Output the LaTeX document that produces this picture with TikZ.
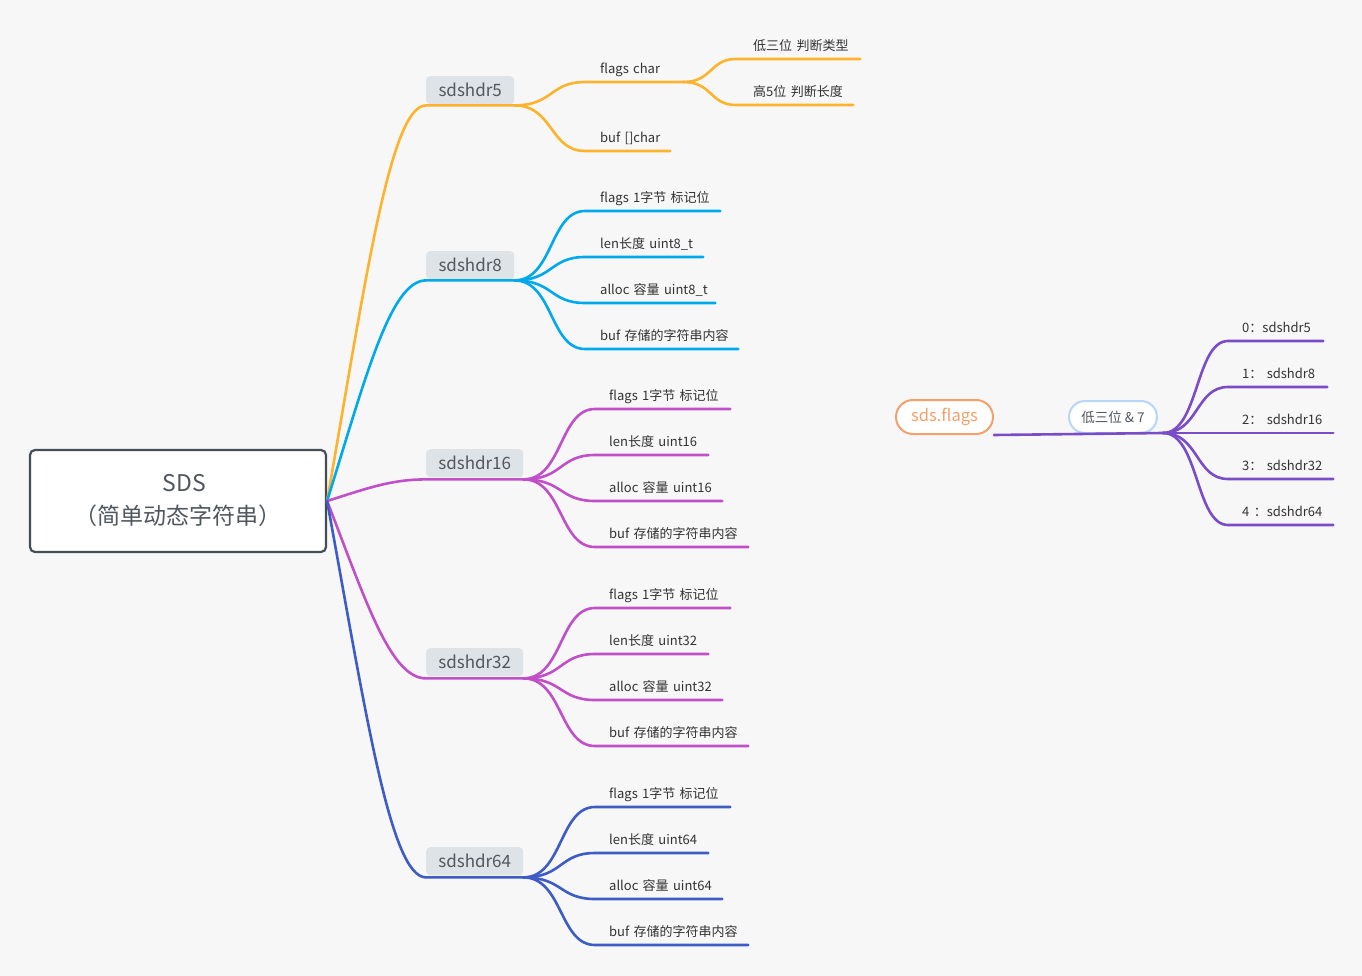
\documentclass[tikz,border=0pt]{standalone}
\usepackage{fontspec}
\setmainfont{Noto Sans CJK SC}
\usetikzlibrary{calc}
\definecolor{bg}{HTML}{F7F7F7}
\definecolor{cfive}{HTML}{FDB32B}
\definecolor{ceight}{HTML}{00A8EC}
\definecolor{csixteen}{HTML}{C04FC8}
\definecolor{csixtyfour}{HTML}{3D5CC5}
\definecolor{cpurple}{HTML}{7A4CC8}
\definecolor{rootb}{HTML}{454D56}
\definecolor{hdrfill}{HTML}{DDE3E6}
\definecolor{hdrtext}{HTML}{50575E}
\definecolor{txt}{HTML}{333333}
\definecolor{flagc}{HTML}{F4A06C}
\definecolor{lblue}{HTML}{B7D7F9}
\tikzset{
  conn/.style={line width=2.6pt, line cap=round},
  leaf/.style={inner xsep=0pt, inner ysep=0pt, anchor=south west, align=left,
    text height=10pt, text depth=8.5pt, font=\fontsize{13}{15}\selectfont, text=txt},
  hdr/.style={fill=hdrfill, rounded corners=4pt, anchor=north west, minimum height=28pt,
    inner sep=0pt, text=hdrtext, font=\fontsize{17}{19}\selectfont},
  rootcurve/.style={to path={let \p1=(\tikztostart), \p2=(\tikztotarget) in
    .. controls ({\x1+0.39*(\x2-\x1)},{\y1+0.56*(\y2-\y1)}) and ({\x1+0.64*(\x2-\x1)},\y2) .. (\tikztotarget)}},
  leafcurve/.style={to path={let \p1=(\tikztostart), \p2=(\tikztotarget) in
    .. controls ({\x1+0.55*(\x2-\x1)},\y1) and ({\x1+0.5*(\x2-\x1)},\y2) .. (\tikztotarget)}},
}
\begin{document}
\begin{tikzpicture}[x=1pt,y=-1pt]
\fill[bg] (0,0) rectangle (1362,976);

% root
\node[draw=rootb, line width=2.2pt, fill=white, rounded corners=5pt, minimum width=296pt,
  minimum height=102pt, align=center, font=\fontsize{23}{33}\selectfont, text=hdrtext] (root) at (178,501)
  {\hspace*{13pt}SDS\\（简单动态字符串）};

% header nodes
\node[hdr, minimum width=88pt] (s5) at (426,76) {sdshdr5};
\node[hdr, minimum width=88pt] (s8) at (426,251) {sdshdr8};
\node[hdr, minimum width=97pt] (s16) at (426,449) {sdshdr16};
\node[hdr, minimum width=97pt] (s32) at (426,648) {sdshdr32};
\node[hdr, minimum width=97pt] (s64) at (426,847) {sdshdr64};

% sdshdr5 leaves
\node[leaf, text width=98pt] (l5a) at (585,82) {\hspace*{15pt}flags char};
\node[leaf, text width=85pt] (l5b) at (585,151) {\hspace*{15pt}buf []char};
\node[leaf, text width=124pt] (g1) at (736,59) {\hspace*{17pt}低三位 判断类型};
\node[leaf, text width=117pt] (g2) at (736,105) {\hspace*{17pt}高5位 判断长度};

% sdshdr8 leaves
\node[leaf, text width=135pt] (l8a) at (585,211) {\hspace*{15pt}flags 1字节 标记位};
\node[leaf, text width=118pt] (l8b) at (585,257) {\hspace*{15pt}len长度 uint8\_t};
\node[leaf, text width=130pt] (l8c) at (585,303) {\hspace*{15pt}alloc 容量 uint8\_t};
\node[leaf, text width=153pt] (l8d) at (585,349) {\hspace*{15pt}buf 存储的字符串内容};

% sdshdr16 leaves
\node[leaf, text width=135pt] (l16a) at (595,409) {\hspace*{14pt}flags 1字节 标记位};
\node[leaf, text width=113pt] (l16b) at (595,455) {\hspace*{14pt}len长度 uint16};
\node[leaf, text width=127pt] (l16c) at (595,501) {\hspace*{14pt}alloc 容量 uint16};
\node[leaf, text width=153pt] (l16d) at (595,547) {\hspace*{14pt}buf 存储的字符串内容};

% sdshdr32 leaves
\node[leaf, text width=135pt] (l32a) at (595,608) {\hspace*{14pt}flags 1字节 标记位};
\node[leaf, text width=113pt] (l32b) at (595,654) {\hspace*{14pt}len长度 uint32};
\node[leaf, text width=127pt] (l32c) at (595,700) {\hspace*{14pt}alloc 容量 uint32};
\node[leaf, text width=153pt] (l32d) at (595,746) {\hspace*{14pt}buf 存储的字符串内容};

% sdshdr64 leaves
\node[leaf, text width=135pt] (l64a) at (595,807) {\hspace*{14pt}flags 1字节 标记位};
\node[leaf, text width=113pt] (l64b) at (595,853) {\hspace*{14pt}len长度 uint64};
\node[leaf, text width=127pt] (l64c) at (595,899) {\hspace*{14pt}alloc 容量 uint64};
\node[leaf, text width=153pt] (l64d) at (595,945) {\hspace*{14pt}buf 存储的字符串内容};

% right side
\node[draw=flagc, line width=2pt, fill=white, rounded corners=17pt, minimum width=97pt,
  minimum height=34pt, inner sep=0pt, text=flagc, font=\fontsize{16.5}{18}\selectfont] (flags) at (944.5,417) {sds.flags};
\node[draw=lblue, line width=2pt, fill=white, rounded corners=16pt, minimum width=88pt,
  minimum height=32pt, inner sep=0pt, text=hdrtext, font=\fontsize{13.5}{15}\selectfont] (mask) at (1113,417) {低三位 \& 7};
\coordinate (fan) at (1163,433);
\node[leaf, text width=95pt] (p0) at (1228,341) {\hspace*{14pt}0：sdshdr5};
\node[leaf, text width=99pt] (p1) at (1228,387) {\hspace*{14pt}1：\ sdshdr8};
\node[leaf, text width=105pt] (p2) at (1228,433) {\hspace*{14pt}2：\ sdshdr16};
\node[leaf, text width=105pt] (p3) at (1228,479) {\hspace*{14pt}3：\ sdshdr32};
\node[leaf, text width=105pt] (p4) at (1228,525) {\hspace*{14pt}4 ：sdshdr64};

% ---------- connectors ----------
% root to headers
\draw[conn, cfive] (root.east) to[rootcurve] ([yshift=-1pt]s5.south west) -- ([yshift=-1pt]s5.south east);
\draw[conn, ceight] (root.east) to[rootcurve] ([yshift=-1pt]s8.south west) -- ([yshift=-1pt]s8.south east);
\draw[conn, csixteen] (root.east) to[rootcurve] ([yshift=-2pt]s16.south west) -- ([yshift=-2pt]s16.south east);
\draw[conn, csixteen] (root.east) to[rootcurve] ([yshift=-2pt]s32.south west) -- ([yshift=-2pt]s32.south east);
\draw[conn, csixtyfour] (root.east) to[rootcurve] ([yshift=-2pt]s64.south west) -- ([yshift=-2pt]s64.south east);

% sdshdr5
\foreach \q in {l5a,l5b}{
  \draw[conn, cfive] ([yshift=-1pt]s5.south east) to[leafcurve] (\q.south west) -- (\q.south east);}
\foreach \q in {g1,g2}{
  \draw[conn, cfive] (l5a.south east) to[leafcurve] (\q.south west) -- (\q.south east);}
% sdshdr8
\foreach \q in {l8a,l8b,l8c,l8d}{
  \draw[conn, ceight] ([yshift=-1pt]s8.south east) to[leafcurve] (\q.south west) -- (\q.south east);}
% sdshdr16
\foreach \q in {l16a,l16b,l16c,l16d}{
  \draw[conn, csixteen] ([yshift=-2pt]s16.south east) to[leafcurve] (\q.south west) -- (\q.south east);}
% sdshdr32
\foreach \q in {l32a,l32b,l32c,l32d}{
  \draw[conn, csixteen] ([yshift=-2pt]s32.south east) to[leafcurve] (\q.south west) -- (\q.south east);}
% sdshdr64
\foreach \q in {l64a,l64b,l64c,l64d}{
  \draw[conn, csixtyfour] ([yshift=-2pt]s64.south east) to[leafcurve] (\q.south west) -- (\q.south east);}

% right side
\draw[conn, cpurple] (flags.south east) -- (fan);
\foreach \q in {p0,p1,p2,p3,p4}{
  \draw[conn, cpurple] (fan) to[leafcurve] (\q.south west) -- (\q.south east);}
\end{tikzpicture}
\end{document}
